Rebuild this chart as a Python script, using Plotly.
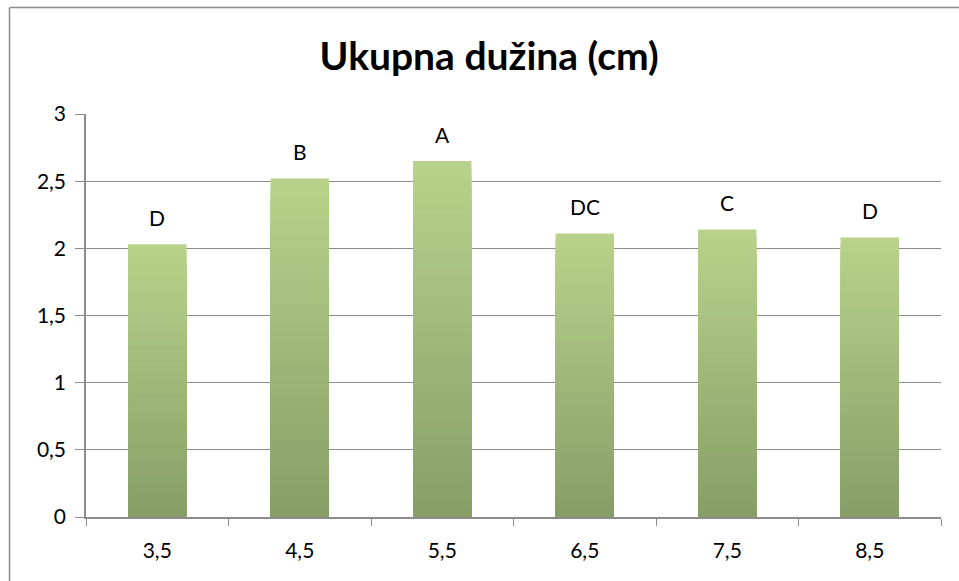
import plotly.graph_objects as go

categories = ["3,5", "4,5", "5,5", "6,5", "7,5", "8,5"]
values = [2.03, 2.52, 2.65, 2.11, 2.14, 2.08]
letters = ["D", "B", "A", "DC", "C", "D"]
y_ticks = [0, 0.5, 1, 1.5, 2, 2.5, 3]
y_tick_text = ["0", "0,5", "1", "1,5", "2", "2,5", "3"]

FONT = "Lato, 'Open Sans', sans-serif"
top_rgb = (184, 210, 139)
bot_rgb = (135, 159, 102)

fig = go.Figure()
N = 40
for i in range(N):
    k = (N - i) / N
    t = i / (N - 1)
    c = tuple(round(top_rgb[j] + (bot_rgb[j] - top_rgb[j]) * t) for j in range(3))
    fig.add_trace(go.Bar(
        x=categories,
        y=[v * k for v in values],
        marker=dict(color="rgb(%d,%d,%d)" % c, line=dict(width=0)),
        showlegend=False,
        hoverinfo="skip" if i > 0 else None,
    ))

for cat, v, lab in zip(categories, values, letters):
    fig.add_annotation(x=cat, y=v, text=lab, showarrow=False, yshift=27,
                       font=dict(family=FONT, size=21, color="#000"))

# outer chart border (left and top edges visible)
fig.add_shape(type="line", xref="paper", yref="paper",
              x0=(9.5 - 86) / 855, x1=(9.5 - 86) / 855, y0=-0.2, y1=(517 - 7.5) / 403,
              line=dict(color="#8c8c8c", width=1.5))
fig.add_shape(type="line", xref="paper", yref="paper",
              x0=(9.5 - 86) / 855, x1=1.05, y0=(517 - 7.5) / 403, y1=(517 - 7.5) / 403,
              line=dict(color="#8c8c8c", width=1.5))

fig.update_layout(
    width=959, height=581,
    margin=dict(l=86, r=18, t=114, b=64),
    paper_bgcolor="white", plot_bgcolor="white",
    barmode="overlay", bargap=0.59,
    separators=", ",
    title=dict(text="<b>Ukupna dužina (cm)</b>", x=0.51, xanchor="center",
               y=1 - 56 / 581, yanchor="middle",
               font=dict(family=FONT, size=39, color="#000")),
    font=dict(family=FONT, size=21, color="#000"),
    xaxis=dict(type="category", tickson="boundaries", ticks="outside", ticklen=7,
               tickcolor="#8c8c8c", showline=True, linecolor="#8c8c8c", linewidth=1.5,
               showgrid=False, tickfont=dict(family=FONT, size=21),
               ticklabelstandoff=14),
    yaxis=dict(range=[0, 3], tickvals=y_ticks, ticktext=y_tick_text,
               ticks="outside", ticklen=9, tickcolor="#8c8c8c",
               showline=True, linecolor="#8c8c8c", linewidth=1.5,
               showgrid=True, gridcolor="#8c8c8c", gridwidth=1.2,
               zeroline=False, tickfont=dict(family=FONT, size=21),
               ticklabelstandoff=5),
)

fig.write_html("out.html", config={"displayModeBar": False},
               post_script="document.body.style.margin='0';document.body.style.overflow='hidden';")
